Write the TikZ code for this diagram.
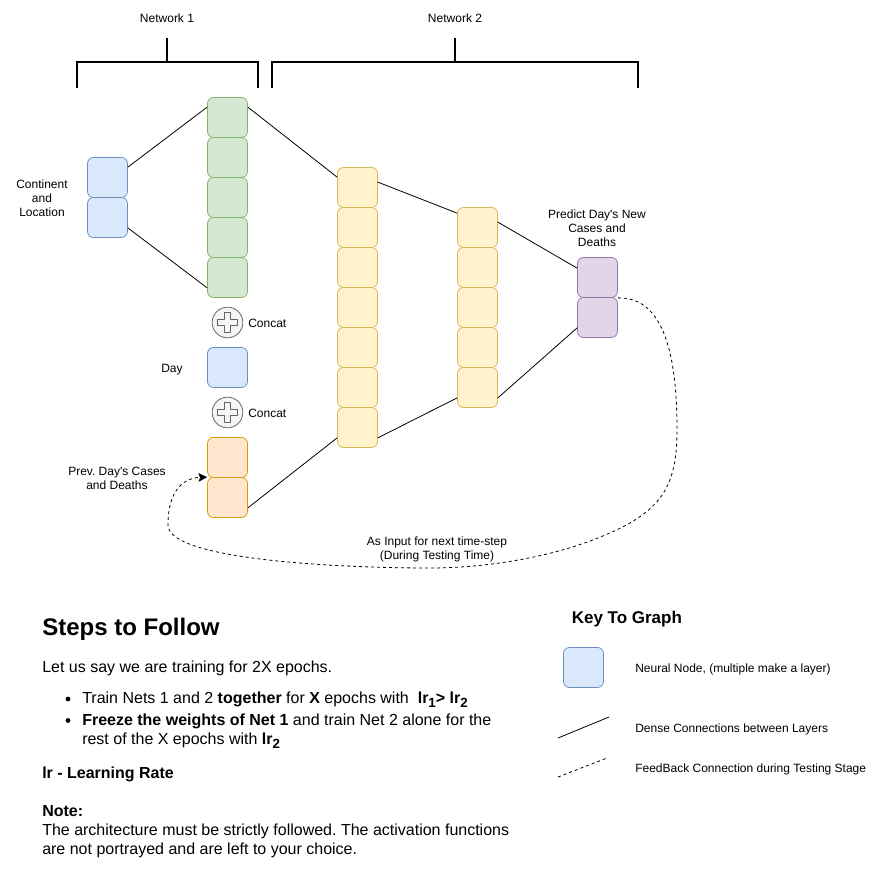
\documentclass[tikz,border=0pt]{standalone}
\usepackage{fontspec}
\setmainfont{Liberation Sans}[Ligatures=TeXOff]
\frenchspacing
\usetikzlibrary{arrows.meta}
\newcommand\subbf[1]{\raisebox{-3pt}{\fontsize{10}{10}\selectfont\bfseries #1}}
\definecolor{bluedraw}{HTML}{6C8EBF}\definecolor{bluefill}{HTML}{DAE8FC}
\definecolor{greendraw}{HTML}{82B366}\definecolor{greenfill}{HTML}{D5E8D4}
\definecolor{yellowdraw}{HTML}{D6B656}\definecolor{yellowfill}{HTML}{FFF2CC}
\definecolor{orangedraw}{HTML}{D79B00}\definecolor{orangefill}{HTML}{FFE6CC}
\definecolor{purpledraw}{HTML}{9673A6}\definecolor{purplefill}{HTML}{E1D5E7}
\definecolor{graydraw}{HTML}{666666}\definecolor{grayfill}{HTML}{F5F5F5}
\tikzset{
  x=0.75pt,y=-0.75pt,
  neuron/.style={draw,rounded corners=4.5pt,minimum width=30pt,minimum height=30pt,inner sep=0pt,line width=0.55pt},
  bluen/.style={neuron,draw=bluedraw,fill=bluefill},
  greenn/.style={neuron,draw=greendraw,fill=greenfill},
  yellown/.style={neuron,draw=yellowdraw,fill=yellowfill},
  orangen/.style={neuron,draw=orangedraw,fill=orangefill},
  purplen/.style={neuron,draw=purpledraw,fill=purplefill},
  dense/.style={draw=black,line width=0.6pt},
  feedback/.style={draw=black,line width=0.6pt,dash pattern=on 2.25pt off 2.25pt},
  bracket/.style={draw=black,line width=1.5pt},
  small/.style={font=\fontsize{9}{10.5}\selectfont,align=center,inner sep=0pt},
  smallleft/.style={font=\fontsize{9}{10.5}\selectfont,anchor=base west,inner sep=0pt},
  body/.style={font=\fontsize{12}{14.25}\selectfont,anchor=base west,inner sep=0pt},
  concat/.style={circle,draw=graydraw,fill=grayfill,minimum size=23pt,inner sep=0pt,line width=0.6pt},
  crossp/.style={draw=graydraw,fill=grayfill,line width=0.55pt,line join=round},
  dotb/.style={circle,fill=black,minimum size=3.6pt,inner sep=0pt},
}
\begin{document}
\begin{tikzpicture}
\useasboundingbox (0,0) rectangle (891,881);
% brackets
\coordinate (a1) at (77,87.5); \coordinate (a2) at (77,62); \coordinate (a3) at (257.5,62); \coordinate (a4) at (257.5,87.5);
\coordinate (a5) at (167.3,38); \coordinate (a6) at (167.3,62);
\coordinate (c1) at (272,87.5); \coordinate (c2) at (272,62); \coordinate (c3) at (637.5,62); \coordinate (c4) at (637.5,87.5);
\coordinate (c5) at (454.7,38); \coordinate (c6) at (454.7,62);
\draw[bracket] (a1) -- (a2) -- (a3) -- (a4);
\draw[bracket] (a5) -- (a6);
\draw[bracket] (c1) -- (c2) -- (c3) -- (c4);
\draw[bracket] (c5) -- (c6);
% neurons
\foreach \n/\y in {b1/177.5,b2/217.5}{\node[bluen] (\n) at (107.5,\y) {};}
\foreach \n/\y in {g1/117.5,g2/157.5,g3/197.5,g4/237.5,g5/277.5}{\node[greenn] (\n) at (227.5,\y) {};}
\node[bluen] (day) at (227.5,367.5) {};
\foreach \n/\y in {o1/457.5,o2/497.5}{\node[orangen] (\n) at (227.5,\y) {};}
\foreach \n/\y in {y1/187.5,y2/227.5,y3/267.5,y4/307.5,y5/347.5,y6/387.5,y7/427.5}{\node[yellown] (\n) at (357.5,\y) {};}
\foreach \n/\y in {z1/227.5,z2/267.5,z3/307.5,z4/347.5,z5/387.5}{\node[yellown] (\n) at (477.5,\y) {};}
\foreach \n/\y in {p1/277.5,p2/317.5}{\node[purplen] (\n) at (597.5,\y) {};}
% concat symbols
\foreach \n/\y in {cc1/322.5,cc2/412.5}{
  \node[concat] (\n) at (227.5,\y) {};
  \draw[crossp] ([shift={(-2.25pt,-7.5pt)}]\n.center) -- ([shift={(2.25pt,-7.5pt)}]\n.center) -- ([shift={(2.25pt,-2.25pt)}]\n.center) -- ([shift={(7.5pt,-2.25pt)}]\n.center) -- ([shift={(7.5pt,2.25pt)}]\n.center) -- ([shift={(2.25pt,2.25pt)}]\n.center) -- ([shift={(2.25pt,7.5pt)}]\n.center) -- ([shift={(-2.25pt,7.5pt)}]\n.center) -- ([shift={(-2.25pt,2.25pt)}]\n.center) -- ([shift={(-7.5pt,2.25pt)}]\n.center) -- ([shift={(-7.5pt,-2.25pt)}]\n.center) -- ([shift={(-2.25pt,-2.25pt)}]\n.center) -- cycle;
}
% dense connections
\draw[dense] ([yshift=-7.5pt]b1.north east) -- ([yshift=-7.5pt]g1.north west);
\draw[dense] ([yshift=7.5pt]b2.south east) -- ([yshift=7.5pt]g5.south west);
\draw[dense] ([yshift=-7.5pt]g1.north east) -- ([yshift=-7.5pt]y1.north west);
\draw[dense] ([yshift=-11.25pt]y1.north east) -- ([yshift=-4.5pt]z1.north west);
\draw[dense] ([yshift=-11.25pt]z1.north east) -- ([yshift=-8.25pt]p1.north west);
\draw[dense] ([yshift=7.5pt]z5.south east) -- ([yshift=7.5pt]p2.south west);
\draw[dense] ([yshift=7.5pt]y7.south east) -- ([yshift=7.5pt]z5.south west);
\draw[dense] ([yshift=7.5pt]o2.south east) -- ([yshift=7.5pt]y7.south west);
% feedback
\draw[feedback,-{Stealth[length=6.5pt,width=6.5pt,inset=1.2pt]}] (p1.south east)
  .. controls (660,297) and (677,345) .. (677,430)
  .. controls (677,490) and (660,515) .. (590,541)
  .. controls (550,556) and (490,568) .. (430,568)
  .. controls (340,568) and (168,560) .. (168,525)
  .. controls (168,492) and (182,478) .. (o2.north west);
% labels
\node[small] (t1) at (167,18) {Network 1};
\node[small] (t2) at (455,18) {Network 2};
\node[small] (t3) at (42,198) {Continent\\and\\Location};
\node[small,anchor=west] (t4) at (248,323) {Concat};
\node[small,anchor=west] (t5) at (248,413) {Concat};
\node[small] (t6) at (172,369.5) {Day};
\node[small] (t7) at (117,478) {Prev. Day's Cases\\and Deaths};
\node[small] (t8) at (597,228) {Predict Day's New\\Cases and\\Deaths};
\node[small] (t9) at (437,549) {As Input for next time-step\\(During Testing Time)};
% steps text
\node[body,font=\fontsize{18}{20}\selectfont\bfseries] (s1) at (42,635) {Steps to Follow};
\node[body] (s2) at (42,672) {Let us say we are training for 2X epochs.};
\node[dotb] (d1) at (68,699) {};
\node[body] (s3) at (82,703) {Train Nets 1 and 2 \textbf{together} for \textbf{X} epochs with\ \ \textbf{lr\subbf{1}> lr\subbf{2}}};
\node[dotb] (d2) at (68,720.5) {};
\node[body] (s4) at (82,725) {\textbf{Freeze the weights of Net 1} and train Net 2 alone for the};
\node[body] (s5) at (82,744) {rest of the X epochs with \textbf{lr\subbf{2}}};
\node[body] (s6) at (42,778) {\textbf{lr - Learning Rate}};
\node[body] (s7) at (42,816) {\textbf{Note:}};
\node[body] (s8) at (42,835) {The architecture must be strictly followed. The activation functions};
\node[body] (s9) at (42,854) {are not portrayed and are left to your choice.};
% key
\node[body,font=\fontsize{12.75}{15}\selectfont\bfseries] (k0) at (571.5,623) {Key To Graph};
\node[bluen] (k1) at (583.5,667.5) {};
\node[smallleft] (k2) at (635,672) {Neural Node, (multiple make a layer)};
\node[smallleft] (k3) at (635,732) {Dense Connections between Layers};
\node[smallleft] (k4) at (635,772) {FeedBack Connection during Testing Stage};
\coordinate (l1) at (558,738); \coordinate (l2) at (609,717);
\coordinate (l3) at (558,777); \coordinate (l4) at (607,758);
\draw[dense] (l1) -- (l2);
\draw[feedback] (l3) -- (l4);
\end{tikzpicture}
\end{document}
